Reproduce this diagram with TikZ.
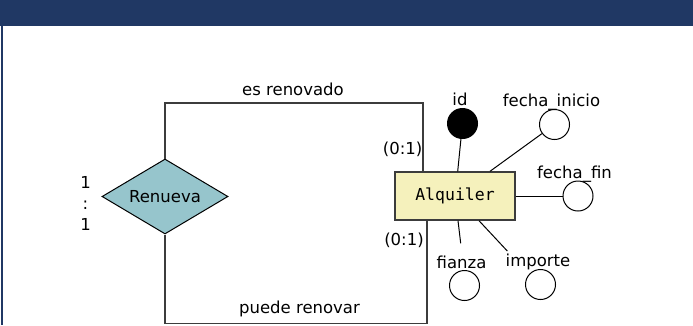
\documentclass[tikz,border=0pt]{standalone}
\usepackage{fontspec}
\setmainfont{DejaVu Sans}
\newfontfamily\monofnt{DejaVu Sans Mono}
\usetikzlibrary{shapes.geometric}
\definecolor{hdr}{RGB}{32,56,100}
\definecolor{relfill}{RGB}{150,197,204}
\definecolor{entfill}{RGB}{245,241,188}
\definecolor{lnc}{RGB}{60,60,60}
\tikzset{
  lbl/.style={anchor=base,inner sep=0pt,font=\fontsize{16.5}{19}\selectfont},
  attr/.style={circle,draw=black,line width=1pt,fill=white,minimum size=30pt,inner sep=0pt},
  keyattr/.style={attr,fill=black},
  aline/.style={draw=black,line width=1pt},
  rline/.style={draw=lnc,line width=1.2pt},
  entbox/.style={rectangle,draw=lnc,line width=1.4pt,fill=entfill,minimum width=120pt,minimum height=48pt,inner sep=0pt,font=\monofnt\fontsize{16.5}{19}\selectfont},
  relbox/.style={diamond,draw=black,line width=1pt,fill=relfill,minimum width=126pt,minimum height=75pt,shape aspect=1.7,inner sep=0pt,font=\fontsize{16.5}{19}\selectfont}
}
\begin{document}
\begin{tikzpicture}[x=1pt,y=-1pt]
\useasboundingbox (0,0) rectangle (693,325);
\fill[white] (0,0) rectangle (693,325);
\fill[hdr] (0,0) rectangle (693,26);
\draw[hdr,line width=1.7pt] (1.8,26) -- (1.8,325);
% nodes
\node[relbox] (rel) at (165,196.5) {Renueva};
\node[entbox] (ent) at (455,196) {Alquiler};
\node[keyattr] (id) at (462.5,123.5) {};
\node[attr] (fi) at (554.5,124.5) {};
\node[attr] (ff) at (578,196) {};
\node[attr] (fz) at (464.5,285.5) {};
\node[attr] (im) at (540.5,284.5) {};
% labels
\node[lbl] (lid) at (460,105) {id};
\node[lbl] (lfi) at (551.5,106) {fecha\_inicio};
\node[lbl] (lff) at (574.5,178.5) {fecha\_fin};
\node[lbl] (lfz) at (461.5,268.3) {fianza};
\node[lbl] (lim) at (538,266.7) {importe};
\node[lbl] (les) at (293,95.5) {es renovado};
\node[lbl] (lpr) at (299.5,313.5) {puede renovar};
\node[lbl] (c1) at (402.7,154.3) {(0:1)};
\node[lbl] (c2) at (404,245.7) {(0:1)};
\node[lbl] (r1) at (85.5,188.3) {1};
\node[lbl] (r2) at (85.5,209.5) {:};
\node[lbl] (r3) at (85.5,230.7) {1};
% relationship connectors
\coordinate (tr) at (423,103);
\coordinate (br) at (427,323.5);
\draw[rline] (rel.north) |- (tr) -- (tr |- ent.north);
\draw[rline] (rel.south) |- (br) -- (br |- ent.south);
% attribute connectors
\coordinate (fzend) at (460.7,243.3);
\coordinate (imend) at (507.3,251);
\draw[aline] ([xshift=2.7pt]ent.north) -- (id);
\draw[aline] ([xshift=35pt]ent.north) -- (fi);
\draw[aline] (ent.east) -- (ff);
\draw[aline] ([xshift=3pt]ent.south) -- (fzend);
\draw[aline] ([xshift=24pt]ent.south) -- (imend);
\end{tikzpicture}
\end{document}
